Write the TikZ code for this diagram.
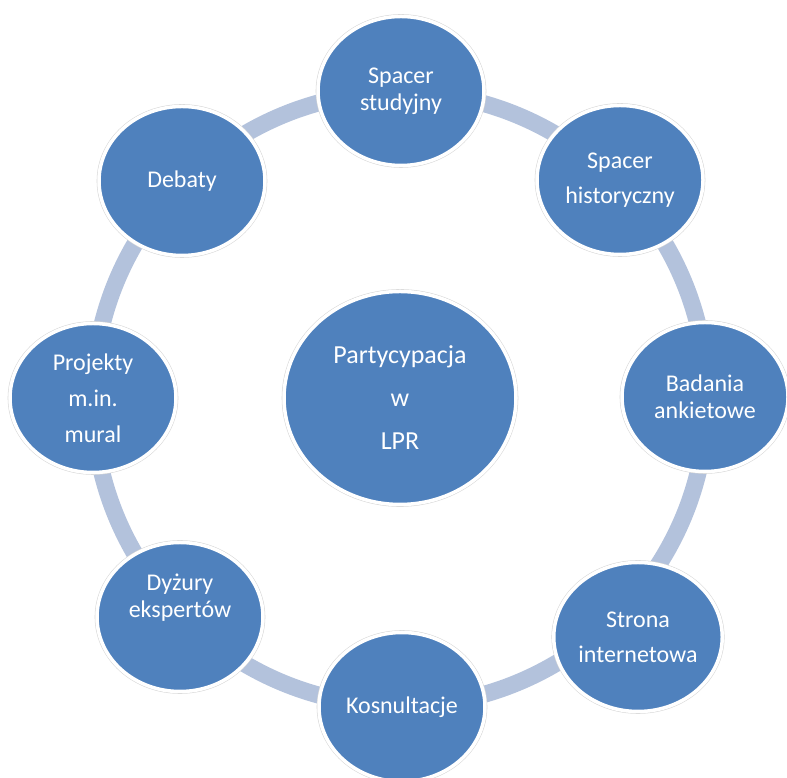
\documentclass[tikz,border=0pt]{standalone}
\usepackage{fontspec}
\setmainfont{Carlito}
\usetikzlibrary{shapes.geometric}
\definecolor{nodeblue}{RGB}{79,129,189}
\definecolor{ringblue}{RGB}{179,194,220}
\definecolor{edgegray}{RGB}{215,215,215}
\tikzset{
  sat/.style={ellipse, inner sep=0pt, minimum width=166pt, minimum height=149pt,
    fill=nodeblue, draw=white, line width=3.5pt,
    preaction={draw=edgegray, line width=4.6pt},
    text=white, align=center},
  hub/.style={sat, minimum width=232pt, minimum height=213pt},
  ringstyle/.style={circle, inner sep=0pt, draw=ringblue, line width=17pt, minimum size=614pt},
  lab/.style={font=\fontsize{24}{35}\selectfont},
  labtight/.style={font=\fontsize{24}{27}\selectfont}
}
\begin{document}
\begin{tikzpicture}[x=1pt,y=1pt]
\useasboundingbox (0,0) rectangle (787,778);
\node[ringstyle] (ring) at (400,379) {};
\node[hub, font=\fontsize{26}{43}\selectfont] (c) at (400,380) {Partycypacja\\w\\LPR};
\node[sat, labtight] (s1) at (401,687) {Spacer\\studyjny};
\node[sat, lab] (s2) at (620,598) {Spacer\\historyczny};
\node[sat, labtight] (s3) at (705,381) {Badania\\ankietowe};
\node[sat, lab] (s4) at (638,141) {Strona\\internetowa};
\node[sat, lab] (s5) at (402,71) {Kosnultacje};
\node[sat, label={[text=white, align=center, labtight, yshift=19pt]center:Dyżury\\ekspertów}] (s6) at (180,161) {};
\node[sat, font=\fontsize{24}{36}\selectfont] (s7) at (93,380) {Projekty\\m.in.\\mural};
\node[sat, lab] (s8) at (182,597) {Debaty};
\end{tikzpicture}
\end{document}
